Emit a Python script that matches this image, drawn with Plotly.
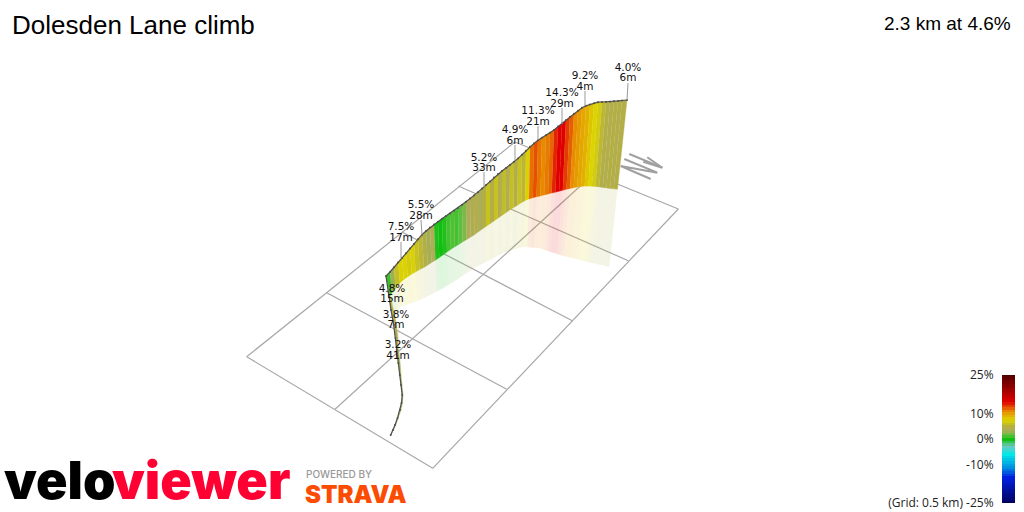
"""
VeloViewer style climb profile: wall along the route, seen in perspective
Values below are read off the picture, in the picture's projected plane
"""
import plotly.graph_objects as go
from plotly.colors import sample_colorscale

# route stations, from the start of the segment to the finish
top_x = [390.7, 393, 395, 397.5, 400, 401.5, 402.2, 401, 399.8, 398.3, 396.7, 395.5, 393.7, 391, 388.5,
         386, 390, 394, 398, 402, 406, 410, 414, 418, 422, 426, 430, 434, 438, 442, 446, 450, 454, 458, 462,
         466, 470, 474, 478, 482, 486, 490, 494, 498, 502, 506, 510, 514, 518, 522, 526, 530, 534, 538, 542,
         546, 550, 554, 558, 562, 566, 570, 574, 578, 582, 586, 590, 594, 598, 602, 606, 610, 614, 618, 622, 627]
top_y = [435, 430, 425, 418, 410, 403, 395, 385, 375, 363, 350, 338, 325, 310, 292,
         276, 272, 267.3, 262.6, 258, 253.2, 248.6, 244, 239.3, 234.7, 231, 227.6, 224.5, 221.7, 218.8, 216,
         213.4, 210.7, 208, 205, 201.8, 198.6, 195.5, 192.2, 188.6, 185.1, 181.4, 177.6, 174, 171, 168, 165,
         161.7, 158.4, 154.7, 150.7, 146.7, 143.4, 140.2, 137.7, 135.2, 132.7, 129.9, 126.6, 123.3, 120, 116.7,
         113.7, 110.7, 107.7, 105.8, 104.5, 103.2, 102.2, 102, 101.9, 101.7, 101.3, 100.9, 100.5, 100]
base_x = [391, 394, 396, 398.5, 401, 402.5, 403, 402, 401, 400, 398.5, 397.8, 396.5, 394.5, 392,
          390, 392, 395.5, 400, 403.8, 407.8, 411.8, 415.6, 419.5, 423.9, 427.8, 431.5, 435.4, 439.3, 443.2, 447,
          450.9, 454.8, 458.6, 462.5, 466.4, 470.4, 474.2, 478.1, 482, 486, 490, 494, 497.9, 501.9, 505.8, 509.7,
          513.6, 517.5, 521.3, 525.2, 529, 532.8, 536.6, 540.4, 544.2, 548, 551.7, 555.4, 559.1, 562.8, 566.5,
          570.1, 573.7, 577.3, 581, 584.6, 588.2, 591.8, 595.5, 599.2, 602.8, 606.5, 610, 613.7, 617.5]
base_y = [434, 429, 424, 417, 410, 402, 394.5, 385, 375, 363, 350, 338, 326, 315, 304,
          296, 293, 288.5, 282.7, 279.4, 276.7, 274, 271.9, 269.6, 267.4, 264.9, 262.6, 260.2, 257.5, 254.8, 252,
          249.3, 246.8, 244.5, 242, 239.7, 237.3, 234.9, 232, 229.2, 226.5, 223.8, 221, 218.2, 215.4, 212.7, 210,
          207.6, 205.2, 202.7, 200.4, 198.9, 197.8, 196.8, 195.9, 194.9, 194, 193, 192.2, 191.2, 190.2, 189.2,
          188.4, 187.7, 187, 186.4, 186.1, 186.1, 186.3, 186.5, 186.9, 187.4, 187.9, 188.4, 188.8, 189.3]
ground_x = [391.5, 394.5, 396.8, 399.3, 401.8, 403, 403.5, 402.5, 401.5, 400.8, 399.5, 399, 398.5, 397.5, 396,
            395, 396.5, 397.4, 401.5, 405.7, 409.7, 413.8, 417.8, 421.5, 425.7, 429.5, 433.3, 437, 440.6, 444.4,
            448.2, 452, 455.7, 459.4, 463, 466.8, 470.7, 474.4, 478.2, 482, 486, 490, 494, 497.8, 501.7, 505.5,
            509.3, 513, 516.8, 520.5, 524, 527.2, 530.8, 534, 537.4, 540.7, 544, 547.3, 550.6, 553.8, 557, 560.3,
            563.8, 567.3, 570.8, 574.3, 577.8, 581.2, 584.6, 588, 591.4, 594.8, 598.2, 601.6, 605, 609.3]
ground_y = [433, 428, 423.5, 416.5, 409.5, 401.5, 394, 385, 375, 363, 350, 338, 328, 323, 318,
            315, 312, 311, 306, 304.8, 303.4, 302.2, 300.7, 299.3, 297.2, 295.3, 293.4, 291.5, 289.5, 287.3, 284.9,
            282.7, 280.6, 278.1, 275.6, 273, 270.5, 267.8, 265.8, 263.9, 262, 260, 258, 255.7, 253.8, 252, 250.9,
            249.7, 248.5, 247.4, 246.7, 247.1, 247.4, 247.7, 248, 248.5, 249.7, 250.8, 251.9, 252.9, 254, 255.1,
            256, 256.8, 257.7, 258.6, 259.5, 260.3, 261.2, 262, 262.8, 263.6, 264.4, 265.1, 265.9, 266.8]
# gradient (%) of the piece that starts at each station
grade = [3.2, 3.2, 3.5, 3.2, 3.0, 3.2, 3.4, 3.2, 3.0, 3.2, 3.8, 3.8, 3.6, 4.8, 4.8,
         0.8, 3.0, 6.0, 7.2, 7.5, 6.8, 7.2, 6.2, 5.5, 4.5, 3.2, 3.5, 0.3, 0.0, 0.3, 1.0, 1.2, 1.0, 1.4, 2.2,
         3.4, 3.6, 4.4, 3.4, 4.6, 6.2, 4.6, 6.2, 4.2, 5.8, 4.2, 6.0, 4.6, 6.2, 5.4, 7.6, 11.6, 12.4, 11.4, 10.9,
         11.3, 11.8, 13.6, 14.6, 14.6, 13.0, 12.0, 10.8, 10.2, 9.6, 9.2, 8.2, 7.4, 6.8, 5.5, 4.6, 4.2, 4.8, 4.2, 4.6]

# split labels, one line for the gradient and one for the climb
label_x = [398, 396, 392, 401, 421, 484, 515, 538, 562, 585, 628]
label_pct_y = [345.5, 315, 289, 227, 205, 158, 130, 111, 93, 76, 68]
label_m_y = [356, 325.5, 299.5, 238, 216, 168.5, 141, 122, 104, 87, 78.5]
label_pct = ['3.2%', '3.8%', '4.8%', '7.5%', '5.5%', '5.2%', '4.9%', '11.3%', '14.3%', '9.2%', '4.0%']
label_m = ['41m', '7m', '15m', '17m', '28m', '33m', '6m', '21m', '29m', '4m', '6m']
stem_x = [401, 401, None, 421, 422, None, 484, 484, None, 515, 515, None, 538, 538, None, 562, 562, None,
          585, 585, None, 628, 627]
stem_y = [242, 258, None, 220, 235, None, 172, 187, None, 145, 160, None, 126, 140, None, 108, 124, None,
          91, 106, None, 83, 100]

# 0.5 km ground grid
grid_x = [246.7, 515, None, 335, 593.5, None, 432.7, 678.3, None, 246.7, 432.7, None, 326.7, 506.7, None,
          402, 572.3, None, 458.3, 628.3, None, 515, 678.3]
grid_y = [356.7, 142, None, 409.3, 174, None, 468.3, 209, None, 356.7, 468.3, None, 292.7, 389.3, None,
          232, 320.7, None, 186, 260.7, None, 142, 209]

# north marker
compass_x = [629.3, 662.3, None, 647.3, 662.3, 643.3, None, 624.3, 657.3, 620.7, 650.7]
compass_y = [154, 167.7, None, 157.3, 167.7, 161.7, None, 159, 172.7, 166, 179]

# colour legend
bar_levels = list(range(-25, 26))
bar_ticks = [25, 10, 0, -10, -25]
bar_labels = ['25%', '10%', '0%', '-10%', '(Grid: 0.5 km) -25%']
colorscale = [
    [0.00, '#00005a'], [0.20, '#0020e0'], [0.28, '#0090e0'], [0.38, '#00e8e8'],
    [0.446, '#70c8c0'], [0.50, '#10c010'], [0.53, '#60c040'], [0.57, '#b0ac58'], [0.60, '#b4b040'],
    [0.648, '#dcd400'], [0.714, '#e89000'], [0.792, '#e00000'], [1.00, '#500000'],
]


def grade_color(value, alpha=1.0):
    rgb = sample_colorscale(colorscale, (value + 25) / 50)[0]
    return rgb.replace('rgb(', 'rgba(').replace(')', f', {alpha})')


fig = go.Figure()

fig.add_trace(go.Scatter(x=grid_x, y=grid_y, mode='lines', line=dict(color='#a8a8a8', width=1.2)))

# pale lower wall goes over the grid, coloured wall goes over both
for i, value in enumerate(grade):
    fig.add_trace(go.Scatter(
        x=[base_x[i], base_x[i+1], ground_x[i+1], ground_x[i]],
        y=[base_y[i], base_y[i+1], ground_y[i+1], ground_y[i]],
        mode='lines', fill='toself', line=dict(width=0),
        fillcolor=grade_color(value, 0.14),
    ))
for i, value in enumerate(grade):
    fig.add_trace(go.Scatter(
        x=[top_x[i], top_x[i+1], base_x[i+1], base_x[i]],
        y=[top_y[i], top_y[i+1], base_y[i+1], base_y[i]],
        mode='lines', fill='toself', line=dict(width=0.4, color=grade_color(value)),
        fillcolor=grade_color(value),
    ))

fig.add_trace(go.Scatter(x=top_x, y=top_y, mode='lines+markers', line=dict(color='#505050', width=1.2),
                         marker=dict(color='#505050', size=2)))
fig.add_trace(go.Scatter(x=stem_x, y=stem_y, mode='lines', line=dict(color='#999999', width=1)))
fig.add_trace(go.Scatter(x=compass_x, y=compass_y, mode='lines', line=dict(color='#a0a0a0', width=2)))
for text_y, text_values in [(label_pct_y, label_pct), (label_m_y, label_m)]:
    fig.add_trace(go.Scatter(x=label_x, y=text_y, mode='text', text=text_values, textposition='middle center',
                             textfont=dict(family='DejaVu Sans', size=10.5, color='#111111')))

fig.add_trace(go.Heatmap(x=[0], y=bar_levels, z=[[level] for level in bar_levels], colorscale=colorscale,
                         zmin=-25, zmax=25, showscale=False, xaxis='x2', yaxis='y2'))

logo_text = [
    dict(text='velo', x=2, y=480, xanchor='left', font=dict(family='Inter', size=52, weight=900, color='#000000')),
    dict(text='viewer', x=110, y=480, xanchor='left', font=dict(family='Inter', size=52, weight=900, color='#ff0033')),
    dict(text='POWERED BY', x=304, y=474, xanchor='left', font=dict(family='Inter', size=10, weight=500, color='#999999')),
    dict(text='STRAVA', x=303, y=494, xanchor='left', font=dict(family='Inter', size=24, weight=900, color='#fc4c02')),
    dict(text='2.3 km at 4.6%', x=1013, y=23, xanchor='right', font=dict(family='Liberation Sans', size=19, color='#000000')),
]
for item in logo_text:
    fig.add_annotation(xref='x', yref='y', showarrow=False, yanchor='middle', **item)

fig.update_layout(
    title=dict(text='Dolesden Lane climb', x=12/1024, xanchor='left', y=1-25/512, yanchor='middle',
               font=dict(family='Liberation Sans', size=26, color='#000000')),
    width=1024,
    height=512,
    margin=dict(l=0, r=0, t=0, b=0, autoexpand=False),
    showlegend=False,
    hovermode=False,
    plot_bgcolor='white',
    paper_bgcolor='white',
    xaxis=dict(domain=[0, 1], range=[0, 1024], visible=False, fixedrange=True),
    yaxis=dict(domain=[0, 1], range=[512, 0], visible=False, fixedrange=True),
    xaxis2=dict(domain=[1002/1024, 1015/1024], anchor='y2', visible=False, range=[-0.5, 0.5], fixedrange=True),
    yaxis2=dict(domain=[1-503/512, 1-375/512], anchor='x2', side='left', range=[-25, 25], showgrid=False,
                zeroline=False, showline=False, tickmode='array', tickvals=bar_ticks, ticktext=bar_labels,
                ticks='outside', ticklen=5, tickcolor='rgba(0,0,0,0)', fixedrange=True,
                tickfont=dict(family='Open Sans', size=12, color='#222222')),
)

# the page's default body margin would push the figure 8px in
fig.write_html("out.html", config={'displayModeBar': False}, post_script="document.body.style.margin = '0';")
